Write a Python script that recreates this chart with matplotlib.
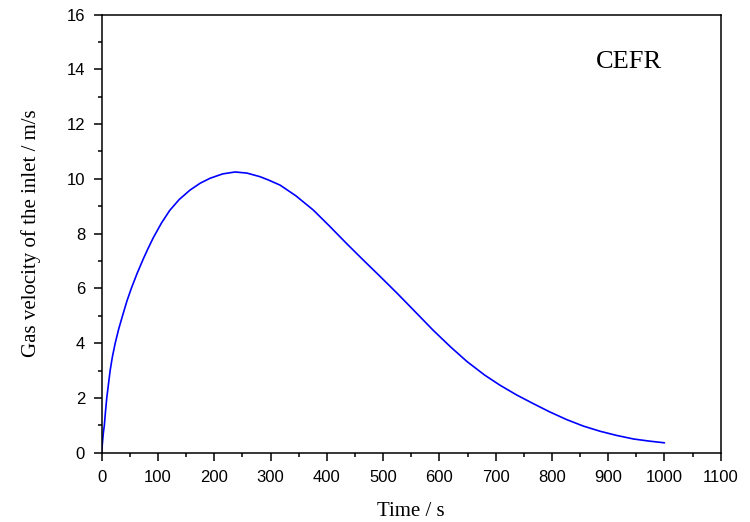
import matplotlib
matplotlib.use("Agg")
import matplotlib.pyplot as plt
from matplotlib.ticker import MultipleLocator

time_s = [0, 1, 2, 3, 4.7, 6.5, 9, 12, 15, 19, 24, 30, 37, 45, 53, 63, 74, 82, 91.7,
          106, 121, 138, 157, 175, 192.5, 215, 237, 258, 281, 296, 317, 345, 376, 405,
          435, 465, 495, 525, 554, 589, 620, 649, 680, 708, 738, 767, 796, 826, 856,
          886, 915, 945, 972, 1000]
velocity = [0, 0.28, 0.52, 0.74, 1.0, 1.45, 2.0, 2.5, 3.0, 3.5, 4.0, 4.5, 5.0, 5.55,
            6.02, 6.55, 7.08, 7.44, 7.85, 8.38, 8.85, 9.25, 9.59, 9.84, 10.02, 10.18,
            10.25, 10.21, 10.08, 9.96, 9.77, 9.38, 8.86, 8.27, 7.64, 7.03, 6.43, 5.82,
            5.21, 4.47, 3.86, 3.33, 2.84, 2.46, 2.10, 1.79, 1.49, 1.21, 0.97, 0.78,
            0.63, 0.50, 0.425, 0.36]

x_label = "Time / s"
y_label = "Gas velocity of the inlet / m/s"
annotation = "CEFR"

fig = plt.figure(figsize=(7.5, 5.22), dpi=100)
ax = fig.add_axes([0.1356, 0.1328, 0.961 - 0.1356, 0.9722 - 0.1328])

ax.plot(time_s, velocity, color="#0000ff", linewidth=1.2,
        solid_joinstyle="round", solid_capstyle="round")

ax.set_xlim(0, 1100)
ax.set_ylim(0, 16)
ax.xaxis.set_major_locator(MultipleLocator(100))
ax.xaxis.set_minor_locator(MultipleLocator(50))
ax.yaxis.set_major_locator(MultipleLocator(2))
ax.yaxis.set_minor_locator(MultipleLocator(1))

for sp in ax.spines.values():
    sp.set_linewidth(1.1)

ax.tick_params(which="major", direction="out", length=6, width=1.1, labelsize=12)
ax.tick_params(which="minor", direction="out", length=3, width=1.1)
ax.tick_params(axis="x", which="major", pad=6.5)
ax.tick_params(axis="y", which="major", pad=6)
for lab in ax.get_xticklabels() + ax.get_yticklabels():
    lab.set_fontfamily("Liberation Sans")

ax.set_xlabel(x_label, fontfamily="Liberation Serif", fontsize=15, labelpad=12)
ax.set_ylabel(y_label, fontfamily="Liberation Serif", fontsize=15, labelpad=18)

ax.text(0.852, 0.878, annotation, transform=ax.transAxes, ha="center", va="baseline",
        fontfamily="Liberation Serif", fontsize=19)

fig.savefig("out.png", dpi=100)
